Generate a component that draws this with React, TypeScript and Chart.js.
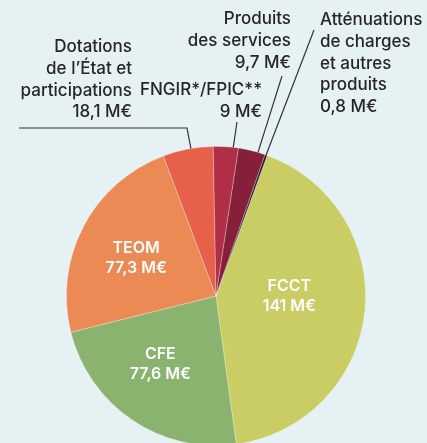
import React, { useEffect, useRef } from "react";
import { Chart, registerables } from "chart.js";

Chart.register(...registerables);

const categories = [
  "FCCT",
  "CFE",
  "TEOM",
  "Dotations de l’État et participations",
  "FNGIR*/FPIC**",
  "Produits des services",
  "Atténuations de charges et autres produits",
];
const values = [141, 77.6, 77.3, 18.1, 9, 9.7, 0.8];
const valueTexts = ["141 M€", "77,6 M€", "77,3 M€", "18,1 M€", "9 M€", "9,7 M€", "0,8 M€"];
const nameLines = [
  ["FCCT"],
  ["CFE"],
  ["TEOM"],
  ["Dotations", "de l’État et", "participations"],
  ["FNGIR*/FPIC**"],
  ["Produits", "des services"],
  ["Atténuations", "de charges", "et autres", "produits"],
];
const colors = ["#c9cd63", "#8ab36f", "#ec8a55", "#e6604a", "#b02f47", "#86203a", "#2b1b1f"];

// inside labels: slice index, fraction along the slice angle, fraction of radius
const insideLabels = [
  { i: 0, f: 0.46, r: 0.49 },
  { i: 1, f: 0.56, r: 0.59 },
  { i: 2, f: 0.47, r: 0.59 },
];
// outside labels: text block position and leader line
const outsideLabels = [
  { i: 3, x: 132, y: 47, align: "right", line: [[19, 128], [187, 128]], f: 0.56 },
  { i: 4, x: 262, y: 90, align: "right", line: [[237, 122]], f: 0.79 },
  { i: 5, x: 291, y: 19, align: "right", line: [[282, 76]], f: 0.73 },
  { i: 6, x: 320, y: 20, align: "left", line: [[314, 30]], f: 0.5 },
];

const FONT = "Inter, 'Open Sans', sans-serif";
const LINE_H = 21.7;

const labelPlugin = {
  id: "labelPlugin",
  afterDatasetsDraw(chart: any) {
    const ctx = chart.ctx;
    const meta = chart.getDatasetMeta(0);
    ctx.save();
    // inside labels
    ctx.fillStyle = "#ffffff";
    ctx.font = `600 16px ${FONT}`;
    ctx.textAlign = "center";
    ctx.textBaseline = "middle";
    insideLabels.forEach((l) => {
      const arc = meta.data[l.i];
      const a = arc.startAngle + l.f * (arc.endAngle - arc.startAngle);
      const rr = arc.outerRadius * l.r;
      const cx = arc.x + rr * Math.cos(a);
      const cy = arc.y + rr * Math.sin(a);
      const lines = [...nameLines[l.i], valueTexts[l.i]];
      lines.forEach((t, k) => {
        ctx.fillText(t, cx, cy + (k - (lines.length - 1) / 2) * 20);
      });
    });
    // outside labels
    ctx.fillStyle = "#262626";
    ctx.font = `500 17px ${FONT}`;
    outsideLabels.forEach((l) => {
      ctx.textAlign = l.align;
      const lines = [...nameLines[l.i], valueTexts[l.i]];
      lines.forEach((t, k) => ctx.fillText(t, l.x, l.y + k * LINE_H));
      const arc = meta.data[l.i];
      const a = arc.startAngle + l.f * (arc.endAngle - arc.startAngle);
      const ex = arc.x + arc.outerRadius * Math.cos(a);
      const ey = arc.y + arc.outerRadius * Math.sin(a);
      ctx.strokeStyle = "#333333";
      ctx.lineWidth = 1.2;
      ctx.beginPath();
      l.line.forEach((p, k) => (k === 0 ? ctx.moveTo(p[0], p[1]) : ctx.lineTo(p[0], p[1])));
      ctx.lineTo(ex, ey);
      ctx.stroke();
    });
    ctx.restore();
  },
};

export default function App() {
  const ref = useRef<HTMLCanvasElement>(null);
  useEffect(() => {
    if (!ref.current) return;
    const chart = new Chart(ref.current, {
      type: "pie",
      data: {
        labels: categories,
        datasets: [
          {
            data: values,
            backgroundColor: colors,
            borderColor: "rgba(255,255,255,0.35)",
            borderWidth: 0.8,
          },
        ],
      },
      options: {
        responsive: false,
        animation: false,
        rotation: 20,
        layout: { padding: { left: 66, right: 61, top: 146, bottom: 14 } },
        plugins: { legend: { display: false }, tooltip: { enabled: false } },
      },
      plugins: [labelPlugin],
    });
    return () => chart.destroy();
  }, []);
  return (
    <div
      style={{
        position: "absolute",
        top: 0,
        left: 0,
        width: 427,
        height: 443,
        overflow: "hidden",
        background: "#e6f1f4",
      }}
    >
      <canvas ref={ref} width={427} height={460} style={{ display: "block" }} />
    </div>
  );
}
